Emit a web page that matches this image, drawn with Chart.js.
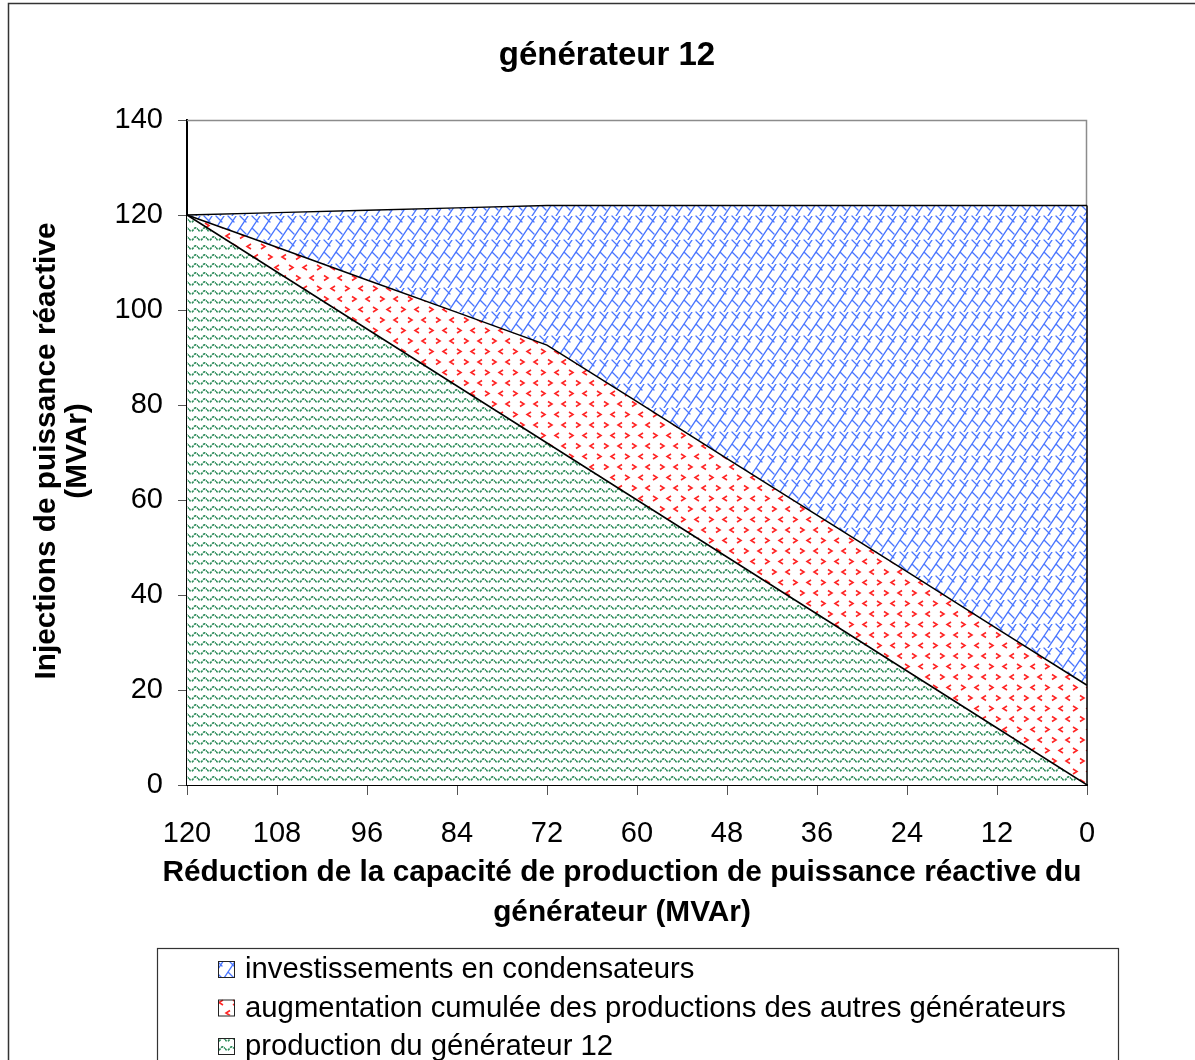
<!DOCTYPE html>
<html lang="fr">
<head>
<meta charset="UTF-8">
<title>générateur 12</title>
<script src="https://cdn.jsdelivr.net/npm/chart.js"></script>
<style>
    html, body { margin: 0; padding: 0; background: #fff; }
    #wrap { position: relative; width: 1195px; height: 1060px; }
</style>
</head>
<body>
<div id="wrap"><canvas id="chart" width="1195" height="1060"></canvas></div>

<script>
// abscisses : réduction de capacité (MVAr), de 120 à 0
const categories = ['120', '108', '96', '84', '72', '60', '48', '36', '24', '12', '0'];
// séries empilées (MVAr)
const productionGen12 = [120, 108, 96, 84, 72, 60, 48, 36, 24, 12, 0];
const autresGenerateurs = [0, 5.2, 10.3, 15.5, 20.6, 20.7, 20.7, 20.8, 20.9, 20.9, 21];
const condensateurs = [0, 7.3, 14.7, 22, 29.4, 41.3, 53.3, 65.2, 77.1, 89.1, 101];
const yTicks = [0, 20, 40, 60, 80, 100, 120, 140];

const titre = 'générateur 12';
const titreX = ['Réduction de la capacité de production de puissance réactive du', 'générateur (MVAr)'];
const titreY = ['Injections de puissance réactive', '(MVAr)'];
const legendLabels = [
    'investissements en condensateurs',
    'augmentation cumulée des productions des autres générateurs',
    'production du générateur 12'
];

const FONT = '"Liberation Sans", Arial, sans-serif';

// --- motifs de remplissage ---
function makeTile(w, h, draw) {
    const c = document.createElement('canvas');
    c.width = w; c.height = h;
    const g = c.getContext('2d');
    g.fillStyle = '#fff';
    g.fillRect(0, 0, w, h);
    draw(g);
    return c;
}

// briques en diagonale (bleu)
const B = 24, H = B / 2;
const briqueTile = makeTile(B, B, g => {
    g.strokeStyle = '#4a76ff';
    g.lineWidth = 1.3;
    g.lineCap = 'round';
    g.beginPath();
    for (let c = -B; c <= 3 * B; c += H) {
        g.moveTo(c + B, -B); g.lineTo(c - B, 2 * B);
    }
    for (let k = -4; k <= 8; k++) {
        const c0 = k * H;
        for (let m = -3; m <= 3; m++) {
            const d = (((k % 2) + 2) % 2) * H + B * m;
            g.moveTo((c0 + d) / 2, (c0 - d) / 2);
            g.lineTo((c0 + H + d) / 2, (c0 + H - d) / 2);
        }
    }
    g.stroke();
});

// petits chevrons (rouge)
const pointsTile = makeTile(28, 21, g => {
    g.strokeStyle = '#ff2424';
    g.lineWidth = 1.6;
    const chevron = (x, y, dir) => {
        g.moveTo(x + 2 * dir, y - 2.5);
        g.lineTo(x - 2 * dir, y);
        g.lineTo(x + 2 * dir, y + 2.5);
    };
    g.beginPath();
    chevron(4, 5, 1);
    chevron(18, 5, -1);
    chevron(11, 15.5, -1);
    chevron(25, 15.5, 1);
    g.stroke();
});

// vaguelettes (vert)
const vaguesTile = makeTile(9, 9, g => {
    g.strokeStyle = '#2f8d5c';
    g.lineWidth = 1.7;
    g.setLineDash([2.4, 1]);
    g.beginPath();
    for (let x = 0; x <= 9; x += 0.5) {
        const y = 4.5 + 1.7 * Math.sin(x / 9 * Math.PI * 2);
        if (x === 0) g.moveTo(x, y); else g.lineTo(x, y);
    }
    g.stroke();
});

const ctx = document.getElementById('chart').getContext('2d');
const motifBleu = ctx.createPattern(briqueTile, 'repeat');
const motifRouge = ctx.createPattern(pointsTile, 'repeat');
const motifVert = ctx.createPattern(vaguesTile, 'repeat');
const legendFills = [motifBleu, motifRouge, motifVert];

// --- décor : titres, cadre, légende ---
const decor = {
    id: 'decor',
    beforeDatasetsDraw(chart) {
        const { ctx, chartArea: a } = chart;
        ctx.save();
        ctx.strokeStyle = '#8c8c8c';
        ctx.lineWidth = 1.5;
        ctx.beginPath();
        ctx.moveTo(a.left, a.top + 0.5);
        ctx.lineTo(a.right - 0.5, a.top + 0.5);
        ctx.lineTo(a.right - 0.5, a.bottom);
        ctx.stroke();
        ctx.restore();
    },
    afterDraw(chart) {
        const { ctx, scales } = chart;
        ctx.save();

        // cadre extérieur
        ctx.strokeStyle = '#333';
        ctx.lineWidth = 1.5;
        ctx.strokeRect(8.5, 3.5, 1300, 1300);

        // bord droit noir dans la zone remplie
        const last = categories.length - 1;
        const top = productionGen12[last] + autresGenerateurs[last] + condensateurs[last];
        ctx.strokeStyle = '#000';
        ctx.lineWidth = 1.5;
        ctx.beginPath();
        ctx.moveTo(scales.x.getPixelForValue(last), scales.y.getPixelForValue(top));
        ctx.lineTo(scales.x.getPixelForValue(last), scales.y.getPixelForValue(0));
        ctx.stroke();

        ctx.fillStyle = '#000';
        ctx.textAlign = 'center';
        ctx.textBaseline = 'middle';

        // titre
        ctx.font = 'bold 33px ' + FONT;
        ctx.fillText(titre, 607, 56);

        // titre axe X
        ctx.font = 'bold 29.8px ' + FONT;
        ctx.fillText(titreX[0], 622, 873);
        ctx.fillText(titreX[1], 622, 913);

        // titre axe Y
        ctx.save();
        ctx.translate(47, 451);
        ctx.rotate(-Math.PI / 2);
        ctx.fillText(titreY[0], 0, 0);
        ctx.fillText(titreY[1], 0, 31);
        ctx.restore();

        // légende
        ctx.strokeStyle = '#333';
        ctx.lineWidth = 1.2;
        ctx.strokeRect(157.5, 948.5, 961, 200);
        ctx.font = '29.3px ' + FONT;
        ctx.textAlign = 'left';
        legendLabels.forEach((lab, i) => {
            const cy = 969 + i * 38.5;
            ctx.fillStyle = legendFills[i];
            ctx.fillRect(218, cy - 8, 16, 16);
            ctx.strokeStyle = '#222';
            ctx.lineWidth = 1;
            ctx.strokeRect(218.5, cy - 7.5, 16, 16);
            ctx.fillStyle = '#000';
            ctx.fillText(lab, 245, cy + 1);
        });
        ctx.restore();
    }
};

new Chart(ctx, {
    type: 'line',
    data: {
        labels: categories,
        datasets: [
            {
                label: legendLabels[2],
                data: productionGen12,
                backgroundColor: motifVert,
                borderColor: '#000',
                borderWidth: 1.5,
                fill: 'origin'
            },
            {
                label: legendLabels[1],
                data: autresGenerateurs,
                backgroundColor: motifRouge,
                borderColor: '#000',
                borderWidth: 1.5,
                fill: '-1'
            },
            {
                label: legendLabels[0],
                data: condensateurs,
                backgroundColor: motifBleu,
                borderColor: '#000',
                borderWidth: 1.5,
                fill: '-1'
            }
        ]
    },
    options: {
        responsive: false,
        animation: false,
        elements: { point: { radius: 0 }, line: { tension: 0 } },
        layout: { padding: { left: 97, top: 120, right: 108, bottom: 215 } },
        scales: {
            x: {
                offset: false,
                grid: { offset: false, drawOnChartArea: false, color: '#555', tickLength: 10, lineWidth: 1 },
                border: { color: '#000', width: 2 },
                ticks: { color: '#000', font: { family: FONT, size: 29 }, padding: 22, maxRotation: 0, autoSkip: false },
                afterFit(scale) { scale.height = 60; }
            },
            y: {
                stacked: true,
                min: 0,
                max: 140,
                afterBuildTicks(scale) { scale.ticks = yTicks.map(v => ({ value: v })); },
                grid: { drawOnChartArea: false, color: '#555', tickLength: 9, lineWidth: 1 },
                border: { color: '#000', width: 2 },
                ticks: { color: '#000', font: { family: FONT, size: 29 }, padding: 15 },
                afterFit(scale) { scale.width = 90; }
            }
        },
        plugins: {
            legend: { display: false },
            title: { display: false },
            tooltip: { enabled: false }
        }
    },
    plugins: [decor]
});
</script>
</body>
</html>
